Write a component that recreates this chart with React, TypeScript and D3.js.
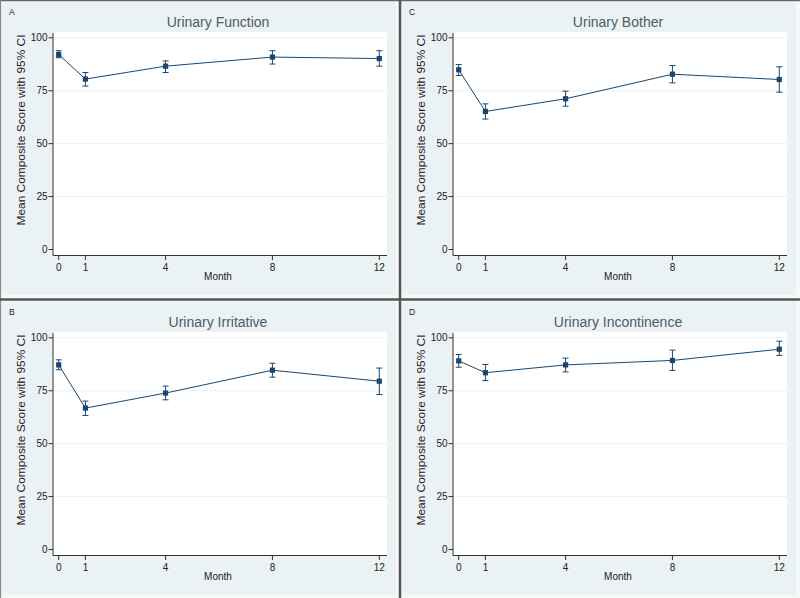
import React from "react";
import * as d3 from "d3";

const months = [0, 1, 4, 8, 12];
const yTicks = [0, 25, 50, 75, 100];

const panelLetters = ["A", "C", "B", "D"];
const panelTitles = ["Urinary Function", "Urinary Bother", "Urinary Irritative", "Urinary Incontinence"];

const functionMean = [92.1, 80.5, 86.6, 90.9, 90.2];
const functionLow = [90.6, 77.2, 83.6, 87.6, 86.6];
const functionHigh = [93.9, 83.6, 89.1, 93.9, 93.9];

const botherMean = [84.9, 65.2, 71.2, 82.8, 80.3];
const botherLow = [82.2, 61.6, 67.7, 78.7, 74.3];
const botherHigh = [87.4, 68.8, 74.8, 86.9, 86.3];

const irritativeMean = [87.2, 66.8, 73.9, 84.7, 79.5];
const irritativeLow = [84.9, 63.3, 70.7, 81.4, 73.2];
const irritativeHigh = [89.6, 70.1, 77.2, 88.0, 85.7];

const incontinenceMean = [89.1, 83.5, 87.2, 89.3, 94.6];
const incontinenceLow = [86.1, 79.8, 83.9, 84.6, 91.7];
const incontinenceHigh = [92.1, 87.4, 90.4, 94.2, 98.4];

const panelSeries = [
  { mean: functionMean, low: functionLow, high: functionHigh },
  { mean: botherMean, low: botherLow, high: botherHigh },
  { mean: irritativeMean, low: irritativeLow, high: irritativeHigh },
  { mean: incontinenceMean, low: incontinenceLow, high: incontinenceHigh },
];

const NAVY = "#1a476f";
const BG = "#eaf2f3";
const FONT = "'Liberation Sans', Arial, Helvetica, sans-serif";

function Panel({ ox, oy, letter, title, series }: any) {
  const x = d3.scaleLinear().domain([0, 12]).range([58.7, 379.3]);
  const y = d3.scaleLinear().domain([0, 100]).range([249.5, 37.8]);
  const line = d3
    .line<number>()
    .x((_, i) => x(months[i]))
    .y((d) => y(d));
  const plotL = 53, plotR = 387, plotT = 32, plotB = 255.5;
  return (
    <g transform={`translate(${ox},${oy})`}>
      <rect x={1.5} y={1.5} width={394.5} height={293.5} fill={BG} />
      <rect x={plotL} y={plotT} width={plotR - plotL} height={plotB - plotT} fill="#ffffff" />
      <text x={9} y={14.5} fontSize={8.5} fill="#222" fontFamily={FONT}>{letter}</text>
      <text x={218} y={27} fontSize={14} fill="#4f5b67" textAnchor="middle" fontFamily={FONT}>{title}</text>
      {yTicks.filter((t) => t > 0).map((t) => (
        <line key={"g" + t} x1={plotL} x2={plotR} y1={y(t)} y2={y(t)} stroke={BG} strokeWidth={1} />
      ))}
      <line x1={plotL} x2={plotL} y1={plotT + 1} y2={plotB} stroke="#333" strokeWidth={1} />
      <line x1={plotL} x2={plotR} y1={plotB} y2={plotB} stroke="#333" strokeWidth={1} />
      {yTicks.map((t) => (
        <g key={"y" + t}>
          <line x1={plotL - 4.5} x2={plotL} y1={y(t)} y2={y(t)} stroke="#333" strokeWidth={1} />
          <text x={plotL - 5.5} y={y(t) + 3.6} fontSize={10} textAnchor="end" fill="#222" fontFamily={FONT}>{t}</text>
        </g>
      ))}
      {months.map((m) => (
        <g key={"x" + m}>
          <line x1={x(m)} x2={x(m)} y1={plotB} y2={plotB + 4.5} stroke="#333" strokeWidth={1} />
          <text x={x(m)} y={plotB + 15} fontSize={10} textAnchor="middle" fill="#222" fontFamily={FONT}>{m}</text>
        </g>
      ))}
      <text x={218} y={280} fontSize={10} textAnchor="middle" fill="#222" fontFamily={FONT}>Month</text>
      <text
        transform={`translate(24.5,130) rotate(-90)`}
        fontSize={10.5}
        textAnchor="middle"
        fill="#222"
        fontFamily={FONT}
        textLength={191}
        lengthAdjust="spacingAndGlyphs"
      >
        Mean Composite Score with 95% CI
      </text>
      {months.map((m, i) => (
        <g key={"e" + m} stroke={NAVY} strokeWidth={1}>
          <line x1={x(m)} x2={x(m)} y1={y(series.low[i])} y2={y(series.high[i])} />
          <line x1={x(m) - 3} x2={x(m) + 3} y1={y(series.low[i])} y2={y(series.low[i])} />
          <line x1={x(m) - 3} x2={x(m) + 3} y1={y(series.high[i])} y2={y(series.high[i])} />
        </g>
      ))}
      <path d={line(series.mean) || ""} fill="none" stroke={NAVY} strokeWidth={1} />
      {months.map((m, i) => (
        <rect key={"m" + m} x={x(m) - 2.6} y={y(series.mean[i]) - 2.6} width={5.2} height={5.2} fill={NAVY} />
      ))}
    </g>
  );
}

export default function App() {
  const origins = [
    [0, 0],
    [400, 0],
    [0, 300],
    [400, 300],
  ];
  return (
    <svg width={800} height={598} style={{ position: "absolute", left: 0, top: 0 }}>
      <rect x={0} y={0} width={800} height={598} fill="#f6f9f9" />
      {origins.map((o, i) => (
        <Panel key={i} ox={o[0]} oy={o[1]} letter={panelLetters[i]} title={panelTitles[i]} series={panelSeries[i]} />
      ))}
      <line x1={0} x2={800} y1={0.5} y2={0.5} stroke="#666" strokeWidth={1.5} />
      <line x1={0.5} x2={0.5} y1={0} y2={598} stroke="#888" strokeWidth={1.2} />
      <line x1={400} x2={400} y1={0} y2={598} stroke="#555" strokeWidth={2.5} />
      <line x1={0} x2={800} y1={299.5} y2={299.5} stroke="#555" strokeWidth={2.5} />
    </svg>
  );
}
